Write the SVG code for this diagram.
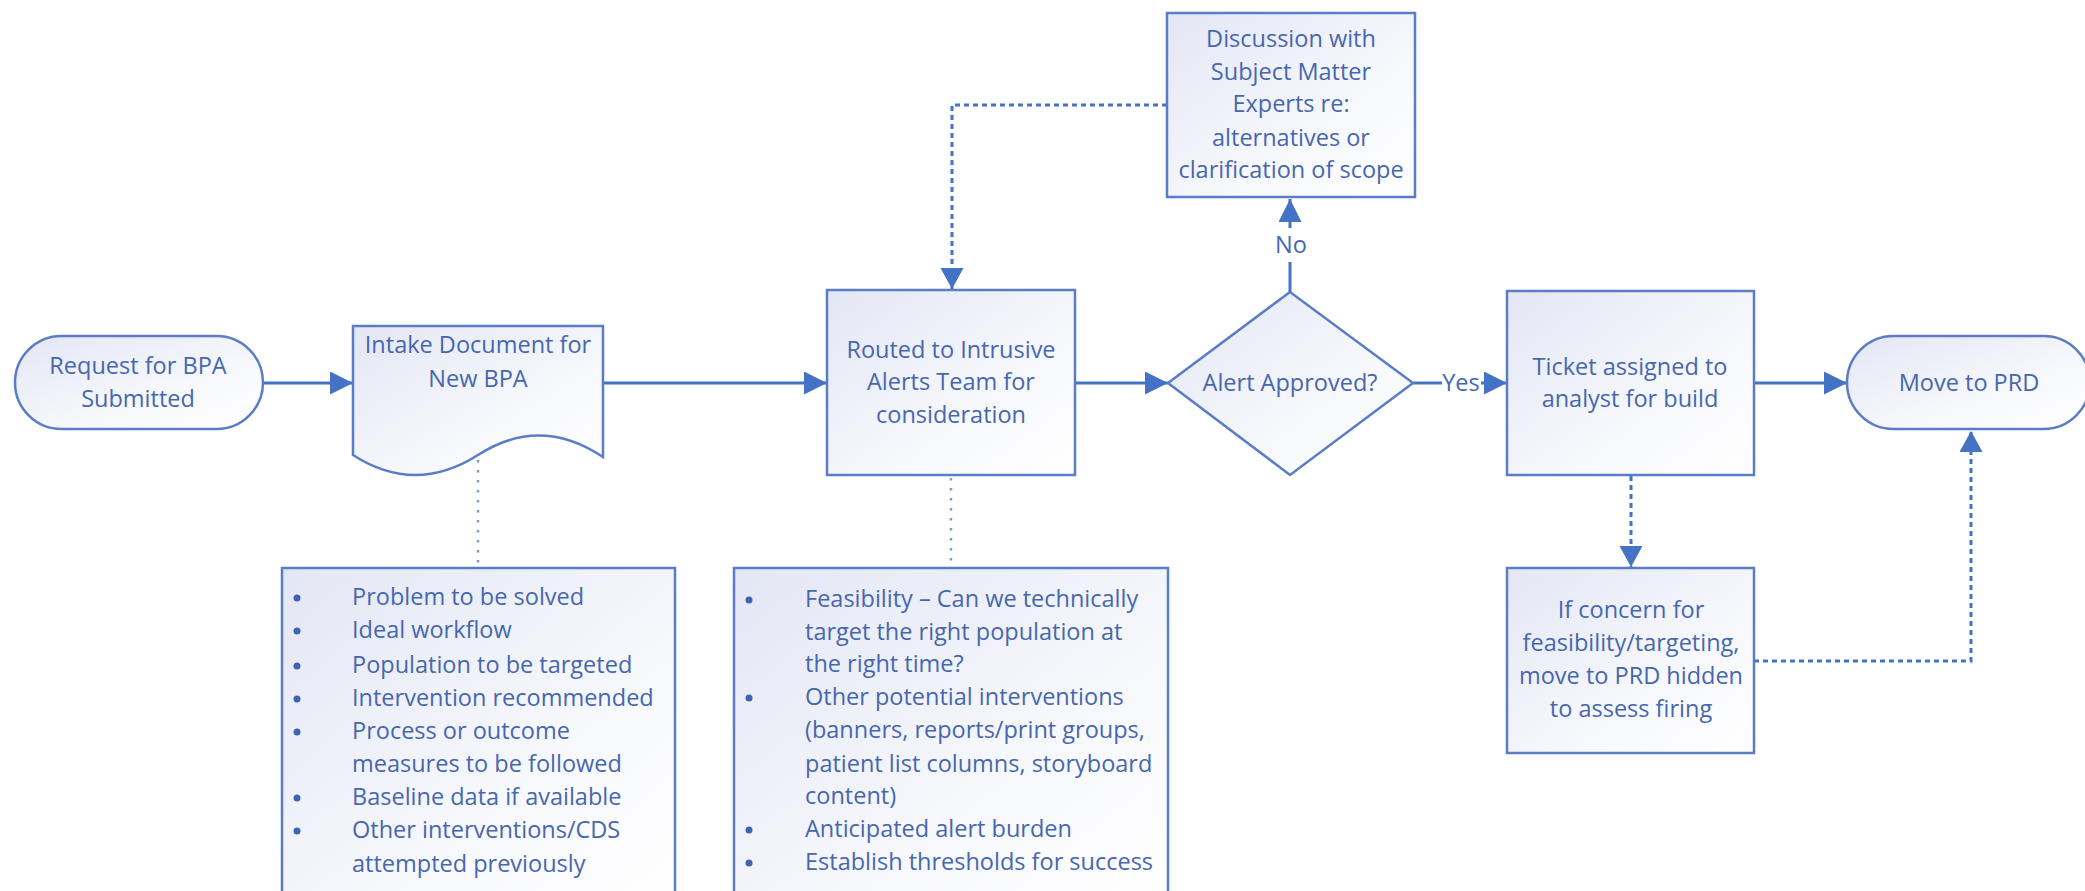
<svg xmlns="http://www.w3.org/2000/svg" width="2085" height="891" viewBox="0 0 2085 891">
<defs>
<linearGradient id="g" x1="0" y1="0" x2="1" y2="1">
<stop offset="0" stop-color="#E3E6F4"/>
<stop offset="0.6" stop-color="#F7F8FC"/>
<stop offset="1" stop-color="#FFFFFF"/>
</linearGradient>
<marker id="ah" markerUnits="userSpaceOnUse" markerWidth="24" markerHeight="24" refX="23" refY="11.5" orient="auto">
<path d="M0,0 L23,11.5 L0,23 z" fill="#4472C4" stroke="none"/>
</marker>
<marker id="ahd" markerUnits="userSpaceOnUse" markerWidth="24" markerHeight="24" refX="21" refY="11.5" orient="auto">
<path d="M0,0 L21,11.5 L0,23 z" fill="#4472C4" stroke="none"/>
</marker>
</defs>
<style>
.n{fill:url(#g);stroke:#5A7DC6;stroke-width:2.5}
.t{font-family:"Open Sans","Liberation Sans",sans-serif;font-size:23.5px;fill:#4667B0;text-anchor:middle}
.b{font-family:"Open Sans","Liberation Sans",sans-serif;font-size:23.5px;fill:#4667B0}
.dot{fill:#3F63AE}
.c{fill:none;stroke:#4472C4;stroke-width:3}
.d{fill:none;stroke:#4472C4;stroke-width:3;stroke-dasharray:5 4}
.f{fill:none;stroke:#7F98D2;stroke-width:2.5;stroke-dasharray:2.5 7.5}
</style>
<rect width="2085" height="891" fill="#FFFFFF"/>

<g id="connectors">
<line class="c" x1="263" y1="383" x2="353" y2="383" marker-end="url(#ah)"/>
<line class="c" x1="603" y1="383" x2="827" y2="383" marker-end="url(#ah)"/>
<line class="c" x1="1075" y1="383" x2="1168" y2="383" marker-end="url(#ah)"/>
<line class="c" x1="1290" y1="292" x2="1290" y2="262"/>
<line class="c" x1="1290" y1="228" x2="1290" y2="199" marker-end="url(#ah)"/>
<text class="t" x="1291" y="253">No</text>
<line class="c" x1="1413" y1="383" x2="1442" y2="383"/>
<text class="t" x="1461" y="391">Yes</text>
<line class="c" x1="1481" y1="383" x2="1507" y2="383" marker-end="url(#ah)"/>
<line class="c" x1="1754" y1="383" x2="1847" y2="383" marker-end="url(#ah)"/>
<polyline class="d" points="1167,105 952,105 952,289" marker-end="url(#ahd)"/>
<line class="d" x1="1631" y1="476" x2="1631" y2="567" marker-end="url(#ahd)"/>
<polyline class="d" points="1754,661 1971,661 1971,431" marker-end="url(#ahd)"/>
<line class="f" x1="478" y1="460" x2="478" y2="567"/>
<line class="f" x1="951" y1="478" x2="951" y2="567"/>
</g>

<g id="request">
<rect class="n" x="15" y="336" width="248" height="93" rx="46.5"/>
<text class="t" x="138" y="374">Request for BPA</text>
<text class="t" x="138" y="407">Submitted</text>
</g>

<g id="intake">
<path class="n" d="M353,326 H603 V457 Q540,415 478,455 Q415,495 353,455 Z"/>
<text class="t" x="478" y="353">Intake Document for</text>
<text class="t" x="478" y="387">New BPA</text>
</g>

<g id="routed">
<rect class="n" x="827" y="290" width="248" height="185"/>
<text class="t" x="951" y="358">Routed to Intrusive</text>
<text class="t" x="951" y="390">Alerts Team for</text>
<text class="t" x="951" y="423">consideration</text>
</g>

<g id="decision">
<polygon class="n" points="1168,383 1290,292 1413,383 1290,475"/>
<text class="t" x="1290" y="391">Alert Approved?</text>
</g>

<g id="discussion">
<rect class="n" x="1167" y="13" width="248" height="184"/>
<text class="t" x="1291" y="47">Discussion with</text>
<text class="t" x="1291" y="80">Subject Matter</text>
<text class="t" x="1291" y="112">Experts re:</text>
<text class="t" x="1291" y="146">alternatives or</text>
<text class="t" x="1291" y="178">clarification of scope</text>
</g>

<g id="ticket">
<rect class="n" x="1507" y="291" width="247" height="184"/>
<text class="t" x="1630" y="375">Ticket assigned to</text>
<text class="t" x="1630" y="407">analyst for build</text>
</g>

<g id="move">
<rect class="n" x="1847" y="336" width="243" height="93" rx="46.5"/>
<text class="t" x="1969" y="391">Move to PRD</text>
</g>

<g id="concern">
<rect class="n" x="1507" y="568" width="247" height="185"/>
<text class="t" x="1631" y="618">If concern for</text>
<text class="t" x="1631" y="651">feasibility/targeting,</text>
<text class="t" x="1631" y="684">move to PRD hidden</text>
<text class="t" x="1631" y="717">to assess firing</text>
</g>

<g id="intake-notes">
<rect class="n" x="282" y="568" width="393" height="340"/>
<circle class="dot" cx="297" cy="598" r="3.5"/>
<circle class="dot" cx="297" cy="631" r="3.5"/>
<circle class="dot" cx="297" cy="666" r="3.5"/>
<circle class="dot" cx="297" cy="699" r="3.5"/>
<circle class="dot" cx="297" cy="732" r="3.5"/>
<circle class="dot" cx="297" cy="798" r="3.5"/>
<circle class="dot" cx="297" cy="831" r="3.5"/>
<text class="b" x="352" y="605">Problem to be solved</text>
<text class="b" x="352" y="638">Ideal workflow</text>
<text class="b" x="352" y="673">Population to be targeted</text>
<text class="b" x="352" y="706">Intervention recommended</text>
<text class="b" x="352" y="739">Process or outcome</text>
<text class="b" x="352" y="772">measures to be followed</text>
<text class="b" x="352" y="805">Baseline data if available</text>
<text class="b" x="352" y="838">Other interventions/CDS</text>
<text class="b" x="352" y="872">attempted previously</text>
</g>

<g id="routed-notes">
<rect class="n" x="734" y="568" width="434" height="340"/>
<circle class="dot" cx="749" cy="600" r="3.5"/>
<circle class="dot" cx="749" cy="698" r="3.5"/>
<circle class="dot" cx="749" cy="830" r="3.5"/>
<circle class="dot" cx="749" cy="863" r="3.5"/>
<text class="b" x="805" y="607">Feasibility – Can we technically</text>
<text class="b" x="805" y="640">target the right population at</text>
<text class="b" x="805" y="672">the right time?</text>
<text class="b" x="805" y="705">Other potential interventions</text>
<text class="b" x="805" y="738">(banners, reports/print groups,</text>
<text class="b" x="805" y="772">patient list columns, storyboard</text>
<text class="b" x="805" y="804">content)</text>
<text class="b" x="805" y="837">Anticipated alert burden</text>
<text class="b" x="805" y="870">Establish thresholds for success</text>
</g>
</svg>
